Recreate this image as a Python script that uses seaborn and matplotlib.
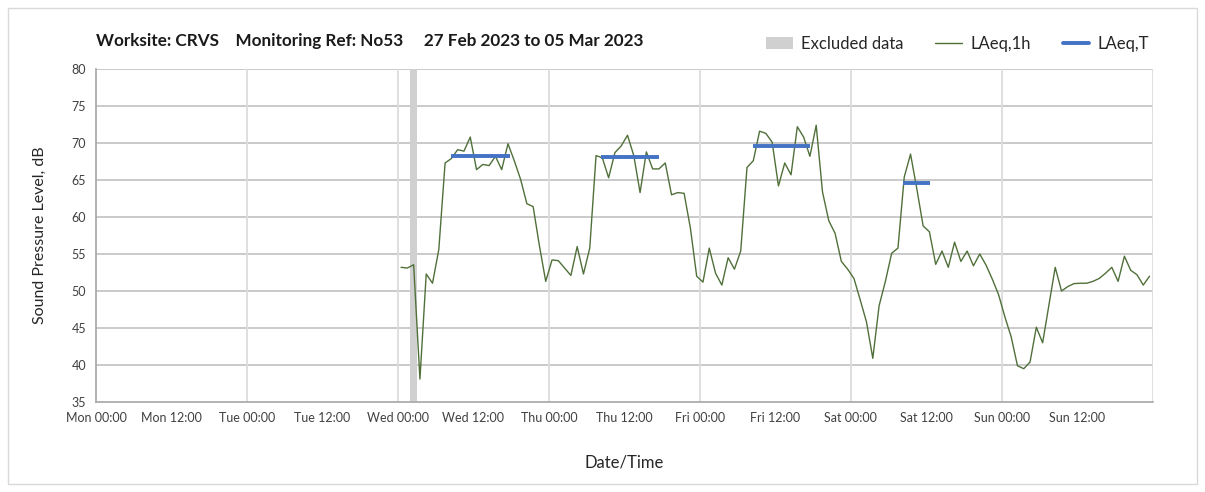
import numpy as np
import pandas as pd
import matplotlib
matplotlib.use("Agg")
import matplotlib.pyplot as plt
import matplotlib.dates as mdates
from matplotlib.patches import Patch, Rectangle
from matplotlib.lines import Line2D
import seaborn as sns

# hourly LAeq,1h levels, Wed 01 Mar 00:30 onwards
laeq_1h = [
    53.2, 53.1, 53.55, 38.1, 52.3, 51.05, 55.6, 67.3, 67.9, 69.1,
    68.9, 70.8, 66.4, 67.1, 66.95, 68.2, 66.4, 69.9, 67.6, 65.1,
    61.8, 61.4, 56.1, 51.3, 54.2, 54.1, 53.1, 52.1, 56.0, 52.3,
    55.8, 68.3, 68.0, 65.3, 68.7, 69.6, 71.05, 68.3, 63.3, 68.8,
    66.5, 66.5, 67.3, 63.0, 63.3, 63.2, 58.5, 52.0, 51.2, 55.8,
    52.4, 50.8, 54.5, 52.95, 55.4, 66.7, 67.6, 71.6, 71.3, 70.1,
    64.2, 67.3, 65.7, 72.2, 70.8, 68.2, 72.4, 63.4, 59.5, 57.8,
    54.0, 52.95, 51.7, 48.8, 45.8, 40.9, 48.0, 51.3, 55.1, 55.8,
    65.4, 68.5, 63.8, 58.8, 58.0, 53.6, 55.4, 53.2, 56.6, 54.0,
    55.4, 53.4, 55.0, 53.5, 51.6, 49.5, 46.5, 43.8, 39.9, 39.5,
    40.4, 45.1, 43.0, 48.1, 53.2, 50.0, 50.6, 51.0, 51.05, 51.05,
    51.3, 51.7, 52.4, 53.2, 51.3, 54.7, 52.8, 52.2, 50.8, 52.0,
]
first_hour = "2023-03-01 00:30"

# LAeq,T periods: start, end, level
period_start = ["2023-03-01 08:30", "2023-03-02 08:20", "2023-03-03 08:30", "2023-03-04 08:20"]
period_end = ["2023-03-01 17:45", "2023-03-02 17:35", "2023-03-03 17:35", "2023-03-04 12:35"]
period_level = [68.3, 68.1, 69.6, 64.55]

excluded_start = "2023-03-01 02:00"
excluded_end = "2023-03-01 03:00"

week_start = "2023-02-27 00:00"
week_end = "2023-03-06 00:00"

green = "#50703a"
blue = "#4472c4"
grey_band = "#d0d0d0"

sns.set_style("white")
plt.rcParams["font.family"] = ["Lato", "DejaVu Sans"]

df = pd.DataFrame({
    "time": pd.date_range(first_hour, periods=len(laeq_1h), freq="h"),
    "level": laeq_1h,
})

fig = plt.figure(figsize=(12.05, 4.92), dpi=100)
ax = fig.add_axes([96 / 1205, 90 / 492, (1152.7 - 96) / 1205, (402 - 69) / 492])

ax.axvspan(pd.Timestamp(excluded_start), pd.Timestamp(excluded_end),
           color=grey_band, lw=0, zorder=1)
sns.lineplot(data=df, x="time", y="level", ax=ax, color=green, lw=1.0, zorder=3)
for s, e, lv in zip(period_start, period_end, period_level):
    ax.plot([pd.Timestamp(s), pd.Timestamp(e)], [lv, lv], color=blue, lw=2.8,
            solid_capstyle="butt", zorder=4)

ax.set_xlim(pd.Timestamp(week_start), pd.Timestamp(week_end))
ax.set_ylim(35, 80)
ax.set_yticks(np.arange(35, 81, 5))

ax.xaxis.set_major_locator(mdates.HourLocator(byhour=[0, 12]))
ax.xaxis.set_major_formatter(mdates.DateFormatter("%a %H:%M"))
ax.set_xticks(ax.get_xticks()[:-1])

# grid: horizontal every 5 dB, vertical at each midnight
for v in range(40, 81, 5):
    ax.axhline(v, color="#c6c6c6", lw=1.3, zorder=0)
for d in pd.date_range(week_start, week_end, freq="D")[1:]:
    ax.axvline(d, color="#dcdcdc", lw=1.3, zorder=0)

for side in ["top", "right"]:
    ax.spines[side].set_visible(False)
for side in ["left", "bottom"]:
    ax.spines[side].set_color("#a6a6a6")
    ax.spines[side].set_linewidth(1.2)
ax.tick_params(axis="both", direction="out", length=4, width=1, color="#a6a6a6",
               labelsize=9, labelcolor="#404040")
ax.tick_params(axis="y", pad=3)

ax.set_xlabel("Date/Time", fontsize=12, color="#262626", labelpad=22)
ax.set_ylabel("Sound Pressure Level, dB", fontsize=11.5, color="#262626", labelpad=18)

fig.text(96 / 1205, 1 - 41 / 492,
         "Worksite: CRVS    Monitoring Ref: No53     27 Feb 2023 to 05 Mar 2023",
         fontsize=12.3, fontweight="bold", color="#1a1a1a", va="center", ha="left")

handles = [
    Patch(facecolor=grey_band, edgecolor="none"),
    Line2D([], [], color=green, lw=1.0),
    Line2D([], [], color=blue, lw=2.8),
]
fig.legend(handles, ["Excluded data", "LAeq,1h", "LAeq,T"], ncol=3,
           loc="center right", bbox_to_anchor=(1164 / 1205, 1 - 44 / 492),
           frameon=False, fontsize=12, handlelength=1.6, handletextpad=0.5,
           columnspacing=1.9, labelcolor="#262626")

fig.add_artist(Rectangle((8 / 1205, 8 / 492), 1189 / 1205, 476 / 492,
                         transform=fig.transFigure, fill=False,
                         edgecolor="#d9d9d9", lw=1))

fig.savefig("out.png", dpi=100)
